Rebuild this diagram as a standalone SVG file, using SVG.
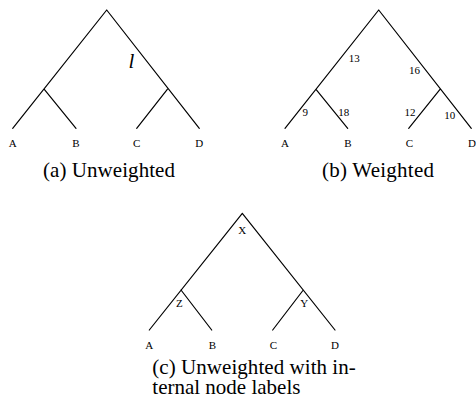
<svg xmlns="http://www.w3.org/2000/svg" width="476" height="404" viewBox="0 0 476 404">
<style>
.e{stroke:#000;stroke-width:1.2;fill:none;stroke-linecap:round;stroke-linejoin:round}
.t{font-family:"Liberation Serif","Times New Roman",serif;font-size:11px;fill:#000;text-anchor:middle}
.c{font-family:"Liberation Serif","Times New Roman",serif;font-size:21px;fill:#000}
.l{font-family:"Liberation Serif","Times New Roman",serif;font-size:21px;font-style:italic;fill:#000;text-anchor:middle}
</style>
<rect width="476" height="404" fill="#fff"/>
<g id="connectors">
<path class="e" d="M12.7,128.3 L106.7,10 L199.3,128.3 M44.3,89.3 L76,128.3 M167.3,89.3 L136.7,128.3"/>
<path class="e" d="M285,128.3 L378.7,10 L471.3,128.3 M316,89.3 L347.7,128.3 M440,89.3 L408.7,128.3"/>
<path class="e" d="M149.3,330 L242.3,213.3 L335,330 M181,290 L211.7,330 M303.3,290 L272.7,330"/>
</g>
<g id="treeA">
<text class="l" x="131.5" y="68">l</text>
<text class="t" x="12.7" y="146.7">A</text>
<text class="t" x="76" y="146.7">B</text>
<text class="t" x="136.7" y="146.7">C</text>
<text class="t" x="199.3" y="146.7">D</text>
<text class="c" x="43" y="176.5" textLength="132" lengthAdjust="spacing">(a) Unweighted</text>
</g>
<g id="treeB">
<text class="t" x="354.2" y="61.7">13</text>
<text class="t" x="414.5" y="74">16</text>
<text class="t" x="305.2" y="116">9</text>
<text class="t" x="343.8" y="116">18</text>
<text class="t" x="410" y="115.7">12</text>
<text class="t" x="449.7" y="119">10</text>
<text class="t" x="285" y="146.7">A</text>
<text class="t" x="348" y="146.7">B</text>
<text class="t" x="409.3" y="146.7">C</text>
<text class="t" x="472" y="146.7">D</text>
<text class="c" x="322" y="176.5" textLength="112" lengthAdjust="spacing">(b) Weighted</text>
</g>
<g id="treeC">
<text class="t" x="242.3" y="234">X</text>
<text class="t" x="179.3" y="307.3">Z</text>
<text class="t" x="304.3" y="307.3">Y</text>
<text class="t" x="149.3" y="349">A</text>
<text class="t" x="212.3" y="349">B</text>
<text class="t" x="273.3" y="349">C</text>
<text class="t" x="335" y="349">D</text>
<text class="c" x="152.3" y="373.5" textLength="203.5" lengthAdjust="spacing">(c) Unweighted with in-</text>
<text class="c" x="152.3" y="394">ternal node labels</text>
</g>
</svg>
